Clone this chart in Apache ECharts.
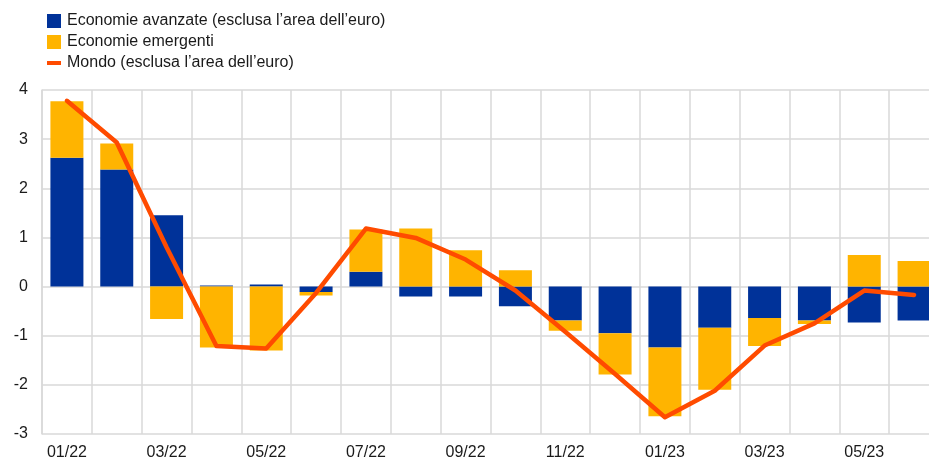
<!DOCTYPE html>
<html>
<head>
<meta charset="utf-8">
<script src="https://cdn.jsdelivr.net/npm/echarts@6/dist/echarts.min.js"></script>
<style>
  html, body { margin: 0; padding: 0; overflow: hidden; background: #fff; }
  #chart { width: 940px; height: 461px; }
</style>
</head>
<body>
<div id="chart"></div>
<script>
var months = ['01/22', '02/22', '03/22', '04/22', '05/22', '06/22', '07/22', '08/22', '09/22',
  '10/22', '11/22', '12/22', '01/23', '02/23', '03/23', '04/23', '05/23', '06/23'];
// economie avanzate (esclusa l'area dell'euro)
var advanced = [2.62, 2.38, 1.45, 0.02, 0.04, -0.11, 0.30, -0.20, -0.20,
  -0.40, -0.69, -0.95, -1.24, -0.84, -0.64, -0.69, -0.73, -0.69];
// economie emergenti
var emerging = [1.15, 0.53, -0.66, -1.24, -1.30, -0.07, 0.86, 1.18, 0.74,
  0.33, -0.21, -0.84, -1.40, -1.26, -0.57, -0.07, 0.64, 0.52];
// mondo (esclusa l'area dell'euro)
var world = [3.78, 2.93, 0.80, -1.21, -1.26, -0.13, 1.18, 0.99, 0.55,
  -0.08, -0.92, -1.78, -2.66, -2.12, -1.20, -0.75, -0.08, -0.17];
var yTicks = { min: -3, max: 4, step: 1 };

var names = ['Economie avanzate (esclusa l\u2019area dell\u2019euro)', 'Economie emergenti',
  'Mondo (esclusa l\u2019area dell\u2019euro)'];

var chart = echarts.init(document.getElementById('chart'));
var option = {
  animation: false,
  textStyle: { fontFamily: 'Liberation Sans, Arial, sans-serif' },
  legend: {
    orient: 'vertical',
    left: 42,
    top: 8,
    itemWidth: 14,
    itemHeight: 14,
    itemGap: 5,
    textStyle: { fontSize: 16, color: '#1a1a1a', lineHeight: 16, padding: [0, 0, 0, 1] },
    data: [
      { name: names[0], icon: 'rect' },
      { name: names[1], icon: 'rect' },
      { name: names[2], icon: 'path://M0,0L0,0M0,5L14,5L14,9L0,9ZM14,14L14,14' }
    ]
  },
  grid: { left: 42, right: 1, top: 90, bottom: 26 },
  xAxis: {
    type: 'category',
    data: months,
    axisLine: { show: false },
    axisTick: { show: false },
    axisLabel: { interval: 1, fontSize: 16, color: '#1a1a1a', margin: 11 },
    splitLine: { show: true, interval: 0, lineStyle: { color: '#d9d9d9', width: 1.5 } }
  },
  yAxis: {
    type: 'value',
    min: yTicks.min,
    max: yTicks.max,
    interval: yTicks.step,
    axisLine: { show: true, lineStyle: { color: '#d9d9d9', width: 1.5 } },
    axisTick: { show: false },
    axisLabel: { fontSize: 16, color: '#1a1a1a', margin: 14 },
    splitLine: { lineStyle: { color: '#d9d9d9', width: 1.5 } }
  },
  series: [
    {
      name: names[0],
      type: 'bar',
      stack: 'tot',
      barWidth: 33,
      itemStyle: { color: '#003299' },
      data: advanced
    },
    {
      name: names[1],
      type: 'bar',
      stack: 'tot',
      barWidth: 33,
      itemStyle: { color: '#ffb400' },
      data: emerging
    },
    {
      name: names[2],
      type: 'line',
      symbol: 'none',
      itemStyle: { color: '#ff4b00' },
      lineStyle: { color: '#ff4b00', width: 4.5, cap: 'round', join: 'round' },
      data: world,
      z: 5
    }
  ]
};
chart.setOption(option);
</script>
</body>
</html>
